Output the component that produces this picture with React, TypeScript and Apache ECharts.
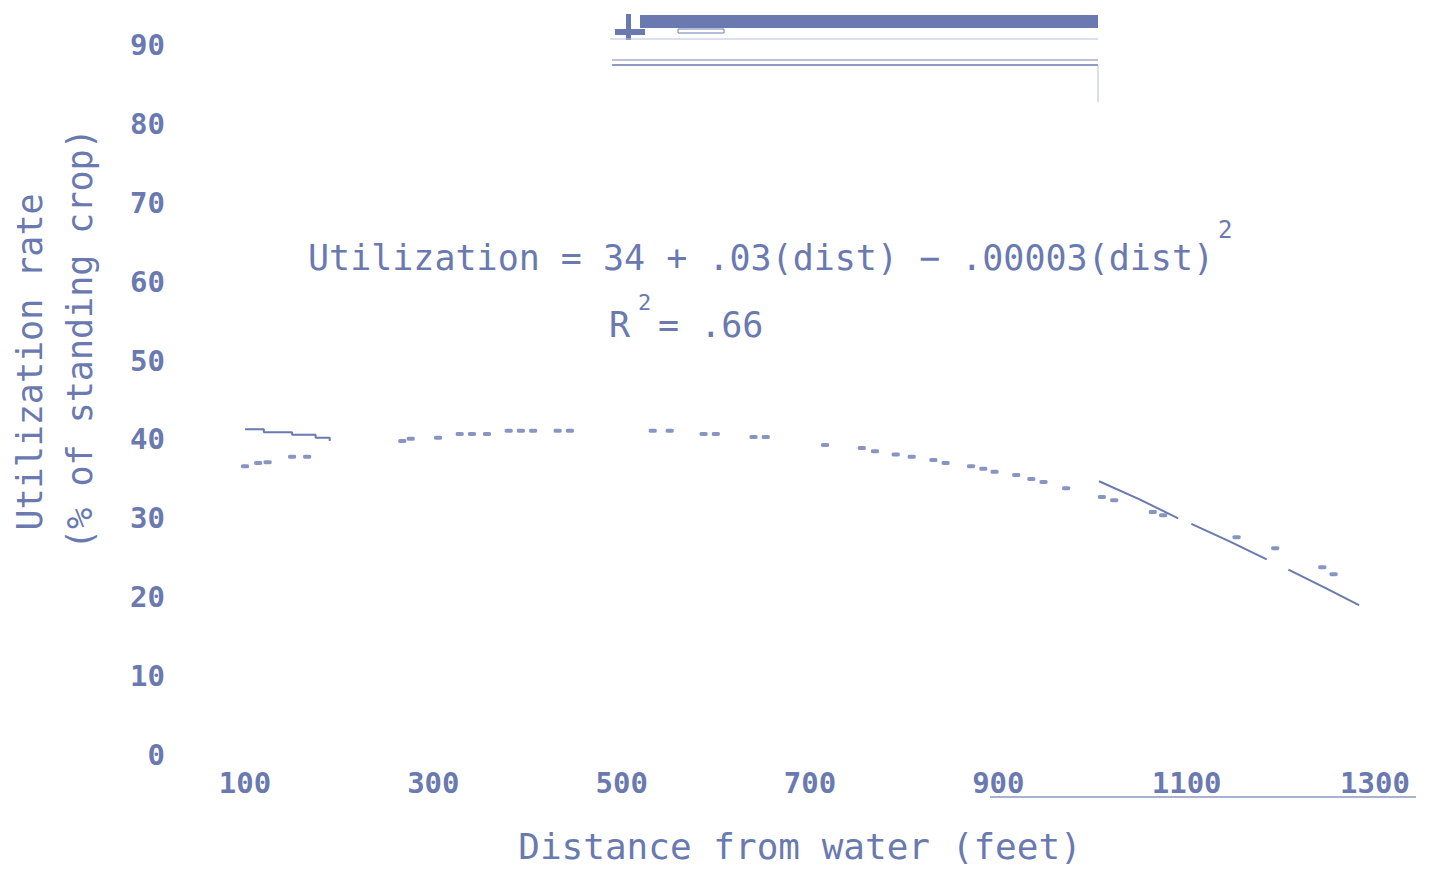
import React, { useEffect, useRef } from "react";
import * as echarts from "echarts";

// Fitted curve, solid stepped segment near the water (distance ft, utilization %)
const curveLeft: [number, number][] = [
  [100, 41.3], [120, 40.9], [150, 40.6], [175, 40.2], [190, 39.8],
];
// Fitted curve, dashed middle part (dash marks)
const curveMiddle: [number, number][] = [
  [267, 39.8], [276, 40.1], [305, 40.2], [328, 40.7], [341, 40.7], [357, 40.7],
  [380, 41.1], [393, 41.1], [406, 41.1], [432, 41.1], [445, 41.1], [533, 41.1],
  [551, 41.1], [587, 40.7], [600, 40.7], [640, 40.3], [653, 40.3], [716, 39.3],
  [755, 38.9], [769, 38.5], [791, 38.1], [808, 37.8], [831, 37.4], [844, 37.0],
  [871, 36.6], [884, 36.3], [896, 35.9], [919, 35.5], [935, 35.0], [948, 34.6],
  [972, 33.8],
];
// Fitted curve, solid stepped segments far from water (null = gap)
const curveRight: ([number, number] | null)[] = [
  [1007, 34.7], [1050, 32.4], [1091, 30.0], null,
  [1105, 29.3], [1145, 27.1], [1185, 24.8], null,
  [1208, 23.5], [1245, 21.3], [1283, 19.0],
];
// Observed points
const observed: [number, number][] = [
  [100, 36.6], [114, 37.0], [124, 37.1], [150, 37.8], [166, 37.8],
  [1010, 32.7], [1023, 32.3], [1064, 30.8], [1075, 30.4], [1153, 27.6],
  [1194, 26.2], [1244, 23.8], [1256, 22.9],
];

const xTicks = { min: 100, max: 1300, interval: 200 };
const yTicks = { min: 0, max: 90, interval: 10 };
const equation = "Utilization = 34 + .03(dist) \u2212 .00003(dist)";
const rSquared = "R";

const INK = "#6a7ab0";
const MONO = "'DejaVu Sans Mono', 'Liberation Mono', monospace";

export default function App() {
  const ref = useRef<HTMLDivElement>(null);
  useEffect(() => {
    if (!ref.current) return;
    const chart = echarts.init(ref.current, null, { renderer: "svg" });
    chart.setOption({
      animation: false,
      backgroundColor: "#ffffff",
      grid: { left: 245, right: 54, top: 45, bottom: 114 },
      xAxis: {
        type: "value",
        min: xTicks.min,
        max: xTicks.max,
        interval: xTicks.interval,
        axisLine: { show: false },
        axisTick: { show: false },
        splitLine: { show: false },
        axisLabel: {
          color: INK,
          fontFamily: MONO,
          fontWeight: "bold",
          fontSize: 29,
          margin: 13,
          formatter: (v: number) => String(v),
        },
      },
      yAxis: {
        type: "value",
        min: yTicks.min,
        max: yTicks.max,
        interval: yTicks.interval,
        axisLine: { show: false },
        axisTick: { show: false },
        splitLine: { show: false },
        axisLabel: {
          color: INK,
          fontFamily: MONO,
          fontWeight: "bold",
          fontSize: 29,
          margin: 80,
        },
      },
      series: [
        {
          name: "Fitted (near)",
          type: "line",
          data: curveLeft,
          showSymbol: false,
          step: "end",
          lineStyle: { color: INK, width: 2 },
        },
        {
          name: "Fitted (middle)",
          type: "scatter",
          data: curveMiddle,
          symbol: "roundRect",
          symbolSize: [8, 4],
          itemStyle: { color: INK },
        },
        {
          name: "Fitted (far)",
          type: "line",
          data: curveRight,
          showSymbol: false,
          connectNulls: false,
          lineStyle: { color: INK, width: 2 },
        },
        {
          name: "Observed",
          type: "scatter",
          data: observed,
          symbol: "roundRect",
          symbolSize: [8, 4],
          itemStyle: { color: INK },
        },
      ],
      graphic: [
        // top scanned band
        { type: "rect", shape: { x: 640, y: 15, width: 458, height: 13 }, style: { fill: INK } },
        { type: "rect", shape: { x: 615, y: 29, width: 30, height: 6 }, style: { fill: INK } },
        { type: "rect", shape: { x: 626, y: 14, width: 5, height: 26 }, style: { fill: INK } },
        { type: "rect", shape: { x: 678, y: 29, width: 46, height: 4 }, style: { fill: "none", stroke: INK, lineWidth: 1 } },
        { type: "line", shape: { x1: 610, y1: 39, x2: 1098, y2: 39 }, style: { stroke: "#b9c1dc", lineWidth: 1 } },
        { type: "line", shape: { x1: 612, y1: 60, x2: 1098, y2: 60 }, style: { stroke: "#b9c1dc", lineWidth: 2 } },
        { type: "line", shape: { x1: 612, y1: 65, x2: 1098, y2: 65 }, style: { stroke: INK, lineWidth: 1.5 } },
        { type: "line", shape: { x1: 1098, y1: 65, x2: 1098, y2: 102 }, style: { stroke: "#b9c1dc", lineWidth: 1 } },
        // bottom partial rule
        { type: "line", shape: { x1: 990, y1: 797, x2: 1416, y2: 797 }, style: { stroke: "#a8b1d2", lineWidth: 2 } },
        // equation
        {
          type: "text",
          x: 308,
          y: 258,
          style: {
            text: equation,
            fill: INK,
            font: `35px ${MONO}`,
            textAlign: "left",
            textVerticalAlign: "middle",
          },
        },
        {
          type: "text",
          x: 1218,
          y: 230,
          style: { text: "2", fill: INK, font: `24px ${MONO}`, textAlign: "left", textVerticalAlign: "middle" },
        },
        {
          type: "text",
          x: 609,
          y: 325,
          style: { text: rSquared, fill: INK, font: `35px ${MONO}`, textAlign: "left", textVerticalAlign: "middle" },
        },
        {
          type: "text",
          x: 638,
          y: 302,
          style: { text: "2", fill: INK, font: `22px ${MONO}`, textAlign: "left", textVerticalAlign: "middle" },
        },
        {
          type: "text",
          x: 658,
          y: 325,
          style: { text: "= .66", fill: INK, font: `35px ${MONO}`, textAlign: "left", textVerticalAlign: "middle" },
        },
        // axis titles
        {
          type: "text",
          x: 800,
          y: 846,
          style: {
            text: "Distance from water (feet)",
            fill: INK,
            font: `36px ${MONO}`,
            textAlign: "center",
            textVerticalAlign: "middle",
          },
        },
        {
          type: "text",
          x: 30,
          y: 362,
          rotation: Math.PI / 2,
          style: {
            text: "Utilization rate",
            fill: INK,
            font: `35px ${MONO}`,
            textAlign: "center",
            textVerticalAlign: "middle",
          },
        },
        {
          type: "text",
          x: 80,
          y: 339,
          rotation: Math.PI / 2,
          style: {
            text: "(% of standing crop)",
            fill: INK,
            font: `35px ${MONO}`,
            textAlign: "center",
            textVerticalAlign: "middle",
          },
        },
      ],
    });
    return () => chart.dispose();
  }, []);
  return (
    <div
      ref={ref}
      style={{ position: "fixed", left: 0, top: 0, width: 1429, height: 869 }}
    />
  );
}
